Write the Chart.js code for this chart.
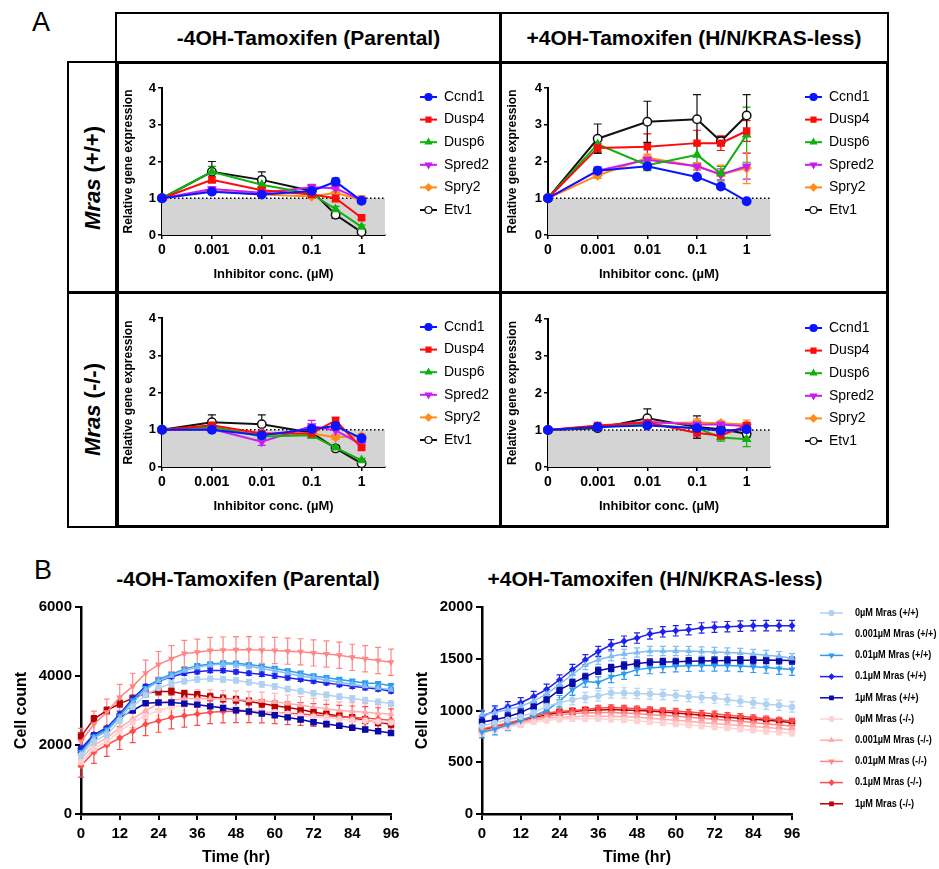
<!DOCTYPE html>
<html>
<head>
<meta charset="utf-8">
<script src="https://cdn.jsdelivr.net/npm/chart.js@4.4.0/dist/chart.umd.min.js"></script>
<style>
body { margin: 0; background: #fff; font-family: 'Liberation Sans', Arial, sans-serif; }
#page { position: relative; width: 939px; height: 869px; overflow: hidden; }
.box { position: absolute; box-sizing: border-box; border: 2px solid #000; }
.thick { border-width: 3px; }
.hdr { display: flex; align-items: center; justify-content: center; font-weight: bold; font-size: 21px; }
.rowlbl { display: flex; align-items: center; justify-content: center; }
.rowlbl span { writing-mode: vertical-rl; transform: rotate(180deg); font-weight: bold; font-size: 22px; white-space: nowrap; }
.letter { position: absolute; font-size: 27px; }
.title { position: absolute; font-weight: bold; font-size: 21px; text-align: center; white-space: nowrap; }
canvas { position: absolute; }
</style>
</head>
<body>
<div id="page">
  <div class="letter" style="left:32px;top:7px">A</div>
  <div class="box hdr" style="left:115px;top:12px;width:387px;height:52px">-4OH-Tamoxifen (Parental)</div>
  <div class="box hdr" style="left:499px;top:12px;width:390px;height:52px">+4OH-Tamoxifen (H/N/KRAS-less)</div>
  <div class="box rowlbl" style="left:67px;top:61px;width:52px;height:233px"><span><i>Mras</i> (+/+)</span></div>
  <div class="box rowlbl" style="left:67px;top:291px;width:52px;height:237px"><span><i>Mras</i> (-/-)</span></div>
  <div class="box thick" style="left:115px;top:61px;width:387px;height:233px"></div>
  <div class="box thick" style="left:499px;top:61px;width:390px;height:233px"></div>
  <div class="box thick" style="left:115px;top:291px;width:387px;height:237px"></div>
  <div class="box thick" style="left:499px;top:291px;width:390px;height:237px"></div>

  <canvas id="tl" width="380" height="226" style="left:118px;top:64px"></canvas>
  <canvas id="tr" width="384" height="226" style="left:502px;top:64px"></canvas>
  <canvas id="bl" width="380" height="231" style="left:118px;top:294px"></canvas>
  <canvas id="br" width="384" height="231" style="left:502px;top:294px"></canvas>

  <div class="letter" style="left:34px;top:555px">B</div>
  <div class="title" style="left:78px;top:567px;width:340px">-4OH-Tamoxifen (Parental)</div>
  <div class="title" style="left:475px;top:567px;width:360px">+4OH-Tamoxifen (H/N/KRAS-less)</div>
  <canvas id="cl" width="410" height="277" style="left:0px;top:592px"></canvas>
  <canvas id="cr" width="529" height="277" style="left:410px;top:592px"></canvas>
</div>
<script>
const FONT = "'Liberation Sans', Arial, sans-serif";
Chart.defaults.font.family = FONT;
Chart.defaults.color = '#000';

// ---- panel A data ----
const concTicks = [0, 1, 2, 3, 4];
const concLabels = ['0', '0.001', '0.01', '0.1', '1'];
const concPos = [0, 1, 2, 3, 3.48, 4]; // 0, 0.001, 0.01, 0.1, 0.3, 1 uM on a log-like axis
const genes = ['Ccnd1', 'Dusp4', 'Dusp6', 'Spred2', 'Spry2', 'Etv1'];

const wtParental = [
  [1, 1.18, 1.10, 1.20, 1.45, 0.93],
  [1, 1.50, 1.22, 1.10, 1.00, 0.47],
  [1, 1.72, 1.37, 1.12, 0.70, 0.22],
  [1, 1.25, 1.15, 1.30, 1.27, 0.95],
  [1, 1.20, 1.10, 1.05, 1.15, 0.95],
  [1, 1.72, 1.50, 1.20, 0.55, 0.08]
];
const wtParentalErr = [
  [0.03, 0.06, 0.05, 0.06, 0.10, 0.05],
  [0.03, 0.08, 0.06, 0.06, 0.10, 0.05],
  [0.03, 0.15, 0.08, 0.06, 0.08, 0.05],
  [0.03, 0.06, 0.05, 0.08, 0.10, 0.08],
  [0.03, 0.05, 0.05, 0.05, 0.10, 0.12],
  [0.03, 0.28, 0.22, 0.08, 0.10, 0.04]
];
const wtRasless = [
  [1, 1.75, 1.87, 1.58, 1.32, 0.92],
  [1, 2.37, 2.40, 2.50, 2.50, 2.83],
  [1, 2.47, 1.90, 2.18, 1.67, 2.73],
  [1, 1.75, 2.05, 1.87, 1.65, 1.87],
  [1, 1.62, 2.10, 1.87, 1.65, 1.82],
  [1, 2.62, 3.08, 3.15, 2.55, 3.25]
];
const wtRaslessErr = [
  [0.03, 0.10, 0.08, 0.06, 0.08, 0.04],
  [0.03, 0.12, 0.35, 0.35, 0.20, 0.28],
  [0.03, 0.20, 0.15, 0.30, 0.20, 0.75],
  [0.03, 0.10, 0.10, 0.10, 0.15, 0.35],
  [0.03, 0.08, 0.10, 0.10, 0.25, 0.42],
  [0.03, 0.40, 0.56, 0.67, 0.12, 0.57]
];
const koParental = [
  [1, 1.00, 0.85, 1.02, 1.10, 0.77],
  [1, 1.12, 0.90, 0.90, 1.25, 0.52],
  [1, 1.08, 0.82, 0.85, 0.52, 0.18],
  [1, 1.02, 0.68, 1.10, 0.98, 0.60],
  [1, 1.05, 0.90, 0.90, 0.80, 0.83],
  [1, 1.20, 1.15, 0.92, 0.50, 0.10]
];
const koParentalErr = [
  [0.03, 0.08, 0.10, 0.10, 0.10, 0.06],
  [0.03, 0.06, 0.06, 0.06, 0.08, 0.06],
  [0.03, 0.06, 0.08, 0.08, 0.06, 0.05],
  [0.03, 0.06, 0.10, 0.15, 0.12, 0.08],
  [0.03, 0.05, 0.05, 0.05, 0.06, 0.06],
  [0.03, 0.20, 0.25, 0.06, 0.06, 0.04]
];
const koRasless = [
  [1, 1.08, 1.12, 1.05, 0.98, 1.02],
  [1, 1.12, 1.20, 0.92, 0.85, 1.12],
  [1, 1.08, 1.15, 1.05, 0.80, 0.75],
  [1, 1.10, 1.22, 1.15, 1.15, 1.10],
  [1, 1.10, 1.18, 1.20, 1.18, 1.15],
  [1, 1.05, 1.32, 1.08, 1.02, 0.90]
];
const koRaslessErr = [
  [0.03, 0.05, 0.05, 0.10, 0.08, 0.08],
  [0.03, 0.05, 0.06, 0.15, 0.08, 0.08],
  [0.03, 0.05, 0.06, 0.20, 0.10, 0.20],
  [0.03, 0.05, 0.05, 0.10, 0.06, 0.10],
  [0.03, 0.05, 0.05, 0.10, 0.06, 0.12],
  [0.03, 0.06, 0.25, 0.30, 0.10, 0.10]
];

const geneColors = ['#0a14ff', '#ff0a0a', '#10b010', '#c81ef0', '#ff8c1a', '#111111'];
const geneFill = ['#0a14ff', '#ff0a0a', '#10b010', '#c81ef0', '#ff8c1a', '#ffffff'];
const geneShapes = ['circle', 'rect', 'triangle', 'triangle', 'rectRot', 'circle'];
const geneRot = [0, 0, 0, 180, 0, 0];

// ---- panel B data ----
const hours = [0, 4, 8, 12, 16, 20, 24, 28, 32, 36, 40, 44, 48, 52, 56, 60, 64, 68, 72, 76, 80, 84, 88, 92, 96];
const doseLabels = ['0\u00b5M Mras (+/+)', '0.001\u00b5M Mras (+/+)', '0.01\u00b5M Mras (+/+)', '0.1\u00b5M Mras (+/+)', '1\u00b5M Mras (+/+)',
  '0\u00b5M Mras (-/-)', '0.001\u00b5M Mras (-/-)', '0.01\u00b5M Mras (-/-)', '0.1\u00b5M Mras (-/-)', '1\u00b5M Mras (-/-)'];

const parentalCounts = [
  [1700, 2100, 2300, 2700, 3100, 3450, 3650, 3780, 3850, 3900, 3920, 3900, 3870, 3820, 3760, 3700, 3620, 3560, 3500, 3450, 3400, 3350, 3300, 3250, 3200],
  [1750, 2200, 2400, 2800, 3200, 3600, 3850, 4000, 4150, 4250, 4320, 4350, 4330, 4280, 4220, 4150, 4080, 4000, 3950, 3880, 3820, 3760, 3700, 3650, 3600],
  [1800, 2250, 2450, 2850, 3300, 3650, 3900, 4050, 4200, 4300, 4350, 4380, 4370, 4330, 4280, 4220, 4150, 4080, 4000, 3950, 3900, 3850, 3800, 3780, 3720],
  [1900, 2300, 2500, 2900, 3350, 3700, 3850, 3980, 4080, 4120, 4160, 4160, 4120, 4080, 4050, 4000, 3950, 3900, 3850, 3800, 3750, 3700, 3660, 3620, 3560],
  [1850, 2250, 2450, 2800, 3000, 3210, 3230, 3230, 3200, 3170, 3120, 3070, 3010, 2970, 2910, 2860, 2800, 2740, 2660, 2610, 2560, 2500, 2450, 2400, 2350],
  [1500, 1900, 2100, 2400, 2650, 2850, 3000, 3100, 3150, 3150, 3120, 3100, 3050, 3000, 2980, 2950, 2900, 2850, 2820, 2800, 2750, 2720, 2700, 2680, 2650],
  [1600, 2000, 2200, 2500, 2750, 3000, 3200, 3300, 3350, 3350, 3350, 3330, 3320, 3300, 3280, 3250, 3200, 3150, 3100, 3050, 3000, 2980, 2950, 2920, 2900],
  [2100, 2600, 2950, 3380, 3700, 4080, 4330, 4500, 4650, 4690, 4740, 4750, 4760, 4760, 4750, 4740, 4720, 4700, 4670, 4640, 4600, 4540, 4500, 4450, 4400],
  [1400, 1800, 2000, 2200, 2400, 2600, 2700, 2800, 2850, 2900, 2950, 2970, 2980, 2980, 2970, 2950, 2920, 2900, 2870, 2850, 2820, 2800, 2780, 2750, 2720],
  [2250, 2750, 3000, 3200, 3350, 3500, 3550, 3550, 3480, 3450, 3400, 3350, 3310, 3260, 3200, 3140, 3090, 3030, 2950, 2900, 2840, 2780, 2720, 2660, 2600]
];
const parentalErr = [80, 70, 60, 60, 60, 150, 250, 380, 330, 100];

const raslessCounts = [
  [850, 880, 910, 940, 980, 1040, 1075, 1105, 1125, 1140, 1170, 1170, 1165, 1160, 1155, 1145, 1135, 1125, 1120, 1105, 1090, 1075, 1060, 1050, 1035],
  [960, 980, 1010, 1040, 1090, 1160, 1250, 1350, 1440, 1490, 1525, 1545, 1560, 1575, 1575, 1575, 1575, 1570, 1565, 1560, 1555, 1545, 1535, 1525, 1505],
  [790, 820, 860, 900, 950, 1000, 1090, 1200, 1280, 1270, 1325, 1355, 1395, 1410, 1420, 1428, 1432, 1435, 1435, 1435, 1430, 1422, 1415, 1405, 1395],
  [945, 995, 1035, 1075, 1135, 1205, 1295, 1395, 1490, 1570, 1635, 1670, 1700, 1740, 1760, 1770, 1780, 1798, 1805, 1810, 1815, 1820, 1820, 1820, 1820],
  [890, 910, 940, 980, 1040, 1105, 1200, 1265, 1325, 1385, 1410, 1435, 1455, 1465, 1468, 1470, 1475, 1478, 1480, 1483, 1485, 1486, 1488, 1485, 1482],
  [780, 810, 840, 865, 890, 905, 915, 920, 920, 920, 915, 910, 900, 890, 880, 870, 860, 850, 840, 830, 820, 810, 800, 790, 780],
  [790, 820, 850, 880, 905, 925, 935, 940, 945, 945, 945, 940, 935, 925, 915, 905, 895, 885, 875, 865, 855, 845, 835, 825, 815],
  [800, 830, 860, 890, 920, 945, 960, 970, 975, 980, 980, 975, 970, 960, 955, 945, 935, 925, 915, 905, 895, 885, 870, 860, 850],
  [820, 850, 880, 910, 945, 975, 990, 1000, 1010, 1025, 1030, 1025, 1018, 1010, 1000, 995, 985, 975, 968, 955, 945, 932, 920, 910, 898],
  [810, 840, 870, 900, 930, 960, 980, 990, 1000, 1005, 1010, 1005, 1000, 995, 985, 975, 965, 955, 945, 935, 925, 915, 905, 895, 882]
];
const raslessErr = [50, 45, 55, 50, 35, 25, 25, 25, 25, 25];

const doseColors = ['#b0d2f2', '#80bdf2', '#2d9cf0', '#1f22ee', '#0a0aa8', '#ffd2d2', '#ffacac', '#ff8686', '#ff4c4c', '#b80000'];
const doseShapes = ['circle', 'triangle', 'triangle', 'rectRot', 'rect', 'circle', 'triangle', 'triangle', 'rectRot', 'rect'];
const doseRot = [0, 0, 180, 0, 0, 0, 0, 180, 0, 0];

// ---- plugins ----
const bandAndErrors = {
  id: 'bandAndErrors',
  beforeDatasetsDraw(chart, args, opts) {
    const { ctx, scales } = chart;
    const xs = scales.x, ys = scales.y;
    ctx.save();
    if (opts.band) {
      const y1 = ys.getPixelForValue(1), y0 = ys.getPixelForValue(0);
      ctx.fillStyle = '#d4d4d4';
      ctx.fillRect(xs.left, y1, xs.right - xs.left, y0 - y1);
      ctx.strokeStyle = '#000';
      ctx.lineWidth = 1.5;
      ctx.setLineDash([1.5, 2.5]);
      ctx.beginPath();
      ctx.moveTo(xs.left, y1);
      ctx.lineTo(xs.right, y1);
      ctx.stroke();
      ctx.setLineDash([]);
    }
    chart.data.datasets.forEach((ds, i) => {
      const meta = chart.getDatasetMeta(i);
      ctx.strokeStyle = ds.borderColor;
      ctx.lineWidth = opts.width;
      meta.data.forEach((pt, j) => {
        const e = Array.isArray(ds.err) ? ds.err[j] : ds.err;
        const v = ds.data[j].y;
        const top = ys.getPixelForValue(v + e), bot = ys.getPixelForValue(v - e);
        ctx.beginPath();
        ctx.moveTo(pt.x, top); ctx.lineTo(pt.x, bot);
        ctx.moveTo(pt.x - opts.cap, top); ctx.lineTo(pt.x + opts.cap, top);
        ctx.moveTo(pt.x - opts.cap, bot); ctx.lineTo(pt.x + opts.cap, bot);
        ctx.stroke();
      });
    });
    ctx.restore();
  }
};

const sideLegend = {
  id: 'sideLegend',
  afterDraw(chart, args, opts) {
    if (!opts.show) return;
    const { ctx, chartArea } = chart;
    ctx.save();
    ctx.font = opts.font;
    ctx.textBaseline = 'middle';
    chart.data.datasets.forEach((ds, i) => {
      const x = chartArea.right + opts.dx;
      const y = chartArea.top + opts.dy + i * opts.gap;
      ctx.strokeStyle = ds.borderColor;
      ctx.lineWidth = ds.borderWidth;
      ctx.beginPath();
      ctx.moveTo(x, y); ctx.lineTo(x + opts.len, y);
      ctx.stroke();
      ctx.fillStyle = ds.pointBackgroundColor;
      ctx.lineWidth = 1.2;
      Chart.helpers.drawPoint(ctx, { pointStyle: ds.pointStyle, rotation: ds.pointRotation, radius: opts.r, borderWidth: 1.2 }, x + opts.len / 2, y);
      ctx.fillStyle = '#000';
      // squeeze the text horizontally when a narrow face is wanted
      ctx.save();
      ctx.translate(x + opts.len + opts.pad, y);
      ctx.scale(opts.squeeze, 1);
      ctx.fillText(ds.label, 0, 0);
      ctx.restore();
    });
    ctx.restore();
  }
};

// ---- panel A charts ----
function geneChart(id, vals, errs, dims) {
  const datasets = genes.map((g, i) => ({
    label: g,
    data: vals[i].map((v, j) => ({ x: concPos[j], y: v })),
    err: errs[i],
    borderColor: geneColors[i],
    backgroundColor: geneFill[i],
    pointBackgroundColor: geneFill[i],
    pointBorderColor: geneColors[i],
    pointStyle: geneShapes[i],
    pointRotation: geneRot[i],
    pointRadius: 4.2,
    pointBorderWidth: 1.5,
    borderWidth: 2,
    clip: false
  }));
  return new Chart(document.getElementById(id), {
    type: 'line',
    data: { datasets: datasets },
    options: {
      responsive: false,
      animation: false,
      layout: { padding: { left: 0, top: dims.top, right: dims.right, bottom: 0 } },
      scales: {
        x: {
          type: 'linear', min: 0, max: 4.47,
          afterBuildTicks: s => { s.ticks = concTicks.map(v => ({ value: v })); },
          afterFit: s => { s.height = dims.xh; },
          ticks: { callback: v => concLabels[concTicks.indexOf(v)], font: { size: 14, weight: 'bold' }, padding: 3, maxRotation: 0 },
          grid: { display: true, drawOnChartArea: false, drawTicks: true, tickLength: 4, color: '#000', lineWidth: 1.5 },
          border: { display: true, color: '#000', width: 2 },
          title: { display: true, text: 'Inhibitor conc. (\u00b5M)', font: { size: 13, weight: 'bold' }, padding: { top: 0, bottom: dims.tb } }
        },
        y: {
          type: 'linear', min: 0, max: 4,
          afterFit: s => { s.width = dims.yw; },
          ticks: { stepSize: 1, font: { size: 13, weight: 'bold' }, padding: 2 },
          grid: { display: true, drawOnChartArea: false, drawTicks: true, tickLength: 4, color: '#000', lineWidth: 1.5 },
          border: { display: true, color: '#000', width: 2 },
          title: { display: true, text: 'Relative gene expression', font: { size: 12, weight: 'bold' }, padding: { top: 3, bottom: 0 } }
        }
      },
      plugins: {
        legend: { display: false },
        tooltip: { enabled: false },
        bandAndErrors: { band: true, width: 1.2, cap: 4 },
        sideLegend: { show: true, font: '14px ' + FONT, dx: 35, dy: 9, gap: 22.6, len: 17, pad: 7, r: 3.5, squeeze: 1 }
      }
    },
    plugins: [bandAndErrors, sideLegend]
  });
}

geneChart('tl', wtParental, wtParentalErr, { top: 24, right: 113, xh: 55, yw: 44, tb: 8 });
geneChart('tr', wtRasless, wtRaslessErr, { top: 24, right: 116, xh: 55, yw: 46, tb: 8 });
geneChart('bl', koParental, koParentalErr, { top: 24, right: 113, xh: 58, yw: 44, tb: 11 });
geneChart('br', koRasless, koRaslessErr, { top: 25, right: 116, xh: 58, yw: 46, tb: 11 });

// ---- panel B charts ----
function growthChart(id, counts, errs, dims) {
  const datasets = doseLabels.map((lab, i) => ({
    label: lab,
    data: counts[i].map((v, j) => ({ x: hours[j], y: v })),
    err: errs[i],
    borderColor: doseColors[i],
    backgroundColor: doseColors[i],
    pointBackgroundColor: doseColors[i],
    pointBorderColor: doseColors[i],
    pointStyle: doseShapes[i],
    pointRotation: doseRot[i],
    pointRadius: i === 4 || i === 9 ? 3.5 : 2.5,
    borderWidth: 1.5,
    clip: false
  }));
  return new Chart(document.getElementById(id), {
    type: 'line',
    data: { datasets: datasets },
    options: {
      responsive: false,
      animation: false,
      layout: { padding: { left: 0, top: 15, right: dims.right, bottom: 0 } },
      scales: {
        x: {
          type: 'linear', min: 0, max: 96,
          afterFit: s => { s.height = 55; },
          ticks: { stepSize: 12, font: { size: 15, weight: 'bold' }, padding: 5, maxRotation: 0 },
          grid: { display: true, drawOnChartArea: false, drawTicks: true, tickLength: 6, color: '#000', lineWidth: 2 },
          border: { display: true, color: '#000', width: 2.5 },
          title: { display: true, text: 'Time (hr)', font: { size: 16, weight: 'bold' }, padding: { top: 0, bottom: 2 } }
        },
        y: {
          type: 'linear', min: 0, max: dims.ymax,
          afterFit: s => { s.width = dims.yw; },
          ticks: { stepSize: dims.step, font: { size: 15, weight: 'bold' }, padding: 3, callback: v => String(v) },
          grid: { display: true, drawOnChartArea: false, drawTicks: true, tickLength: 6, color: '#000', lineWidth: 2 },
          border: { display: true, color: '#000', width: 2.5 },
          title: { display: true, text: 'Cell count', font: { size: 16, weight: 'bold' }, padding: { top: dims.tp, bottom: 0 } }
        }
      },
      plugins: {
        legend: { display: false },
        tooltip: { enabled: false },
        bandAndErrors: { band: false, width: 1.2, cap: 3 },
        sideLegend: { show: dims.legend, font: 'bold 10.5px ' + FONT, dx: 28, dy: 6, gap: 21.2, len: 23, pad: 12, r: 2.5, squeeze: 0.87 }
      }
    },
    plugins: [bandAndErrors, sideLegend]
  });
}

growthChart('cl', parentalCounts, parentalErr, { right: 19, yw: 81, ymax: 6000, step: 2000, tp: 12, legend: false });
growthChart('cr', raslessCounts, raslessErr, { right: 147, yw: 72, ymax: 2000, step: 500, tp: 3, legend: true });
</script>
</body>
</html>
